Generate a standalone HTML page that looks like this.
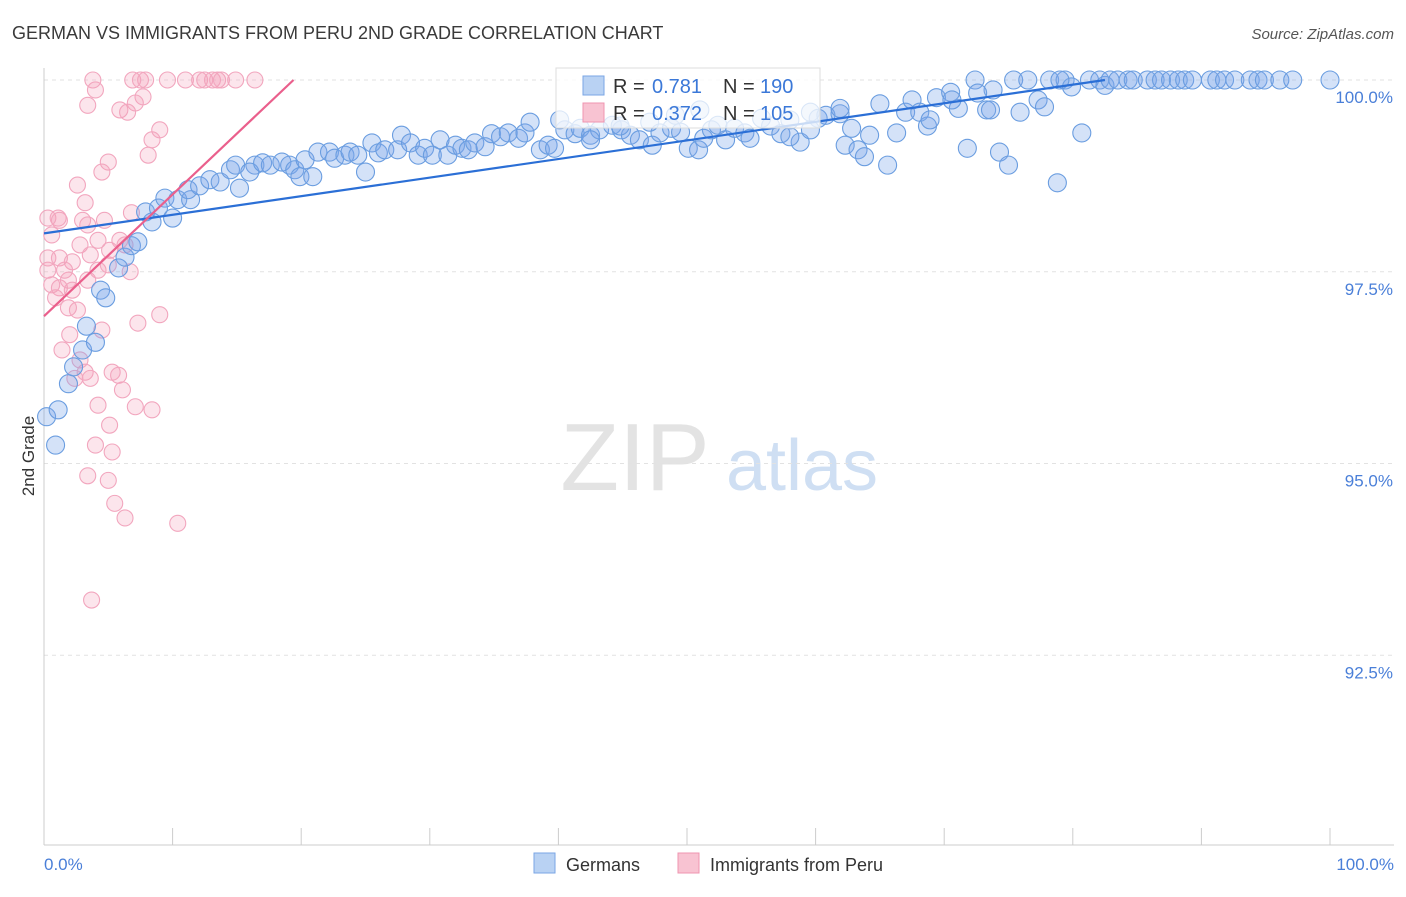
<!DOCTYPE html>
<html><head><meta charset="utf-8"><style>
body{margin:0;background:#fff;font-family:"Liberation Sans",sans-serif;}
svg text{font-family:"Liberation Sans",sans-serif;}
</style></head><body>
<svg id="chart" width="1406" height="892" xmlns="http://www.w3.org/2000/svg">
<text x="12" y="39" font-size="18" fill="#3a3a3a">GERMAN VS IMMIGRANTS FROM PERU 2ND GRADE CORRELATION CHART</text>
<text x="1394" y="39" font-size="15" font-style="italic" fill="#555" text-anchor="end">Source: ZipAtlas.com</text>
<text transform="translate(34,456) rotate(-90)" font-size="17" fill="#333" text-anchor="middle">2nd Grade</text>
<g>
<text x="635" y="490" font-size="96" font-family="Liberation Serif,serif" fill="#e3e3e3" text-anchor="middle">ZIP</text>
<text x="802" y="490" font-size="72" fill="#cfdff3" text-anchor="middle">atlas</text>
</g>
<g id="grid"></g>
<g id="axes"></g>
<g id="pts"></g>
<g id="trend"></g>
<g>
<rect x="556" y="68" width="264" height="60" fill="rgba(255,255,255,0.75)" stroke="#ddd"/>
<rect x="583" y="76" width="21" height="19" fill="#b9d2f3" stroke="#7aa6e4"/>
<text x="613" y="93" font-size="20" fill="#333">R =</text>
<text x="652" y="93" font-size="20" fill="#3b78d8">0.781</text>
<text x="723" y="93" font-size="20" fill="#333">N =</text>
<text x="760" y="93" font-size="20" fill="#3b78d8">190</text>
<rect x="583" y="103" width="21" height="19" fill="#f8c3d2" stroke="#ef94b0"/>
<text x="613" y="120" font-size="20" fill="#333">R =</text>
<text x="652" y="120" font-size="20" fill="#3b78d8">0.372</text>
<text x="723" y="120" font-size="20" fill="#333">N =</text>
<text x="760" y="120" font-size="20" fill="#3b78d8">105</text>
</g>
<g>
<rect x="534" y="853" width="21" height="20" fill="#b9d2f3" stroke="#7aa6e4"/>
<text x="566" y="871" font-size="18" fill="#333">Germans</text>
<rect x="678" y="853" width="21" height="20" fill="#f8c3d2" stroke="#ef94b0"/>
<text x="710" y="871" font-size="18" fill="#333">Immigrants from Peru</text>
</g>
</svg>
<script>
const germanX=[0.2,1.1,0.9,1.9,2.3,3.0,3.3,4.0,4.4,4.8,5.8,6.3,6.8,7.3,8.4,7.9,8.9,9.4,10.0,10.4,11.4,11.2,12.1,12.9,13.7,14.5,15.2,14.9,16.4,16.0,17.0,17.6,18.5,19.1,19.5,19.9,20.3,20.9,21.3,22.2,22.6,23.4,23.8,24.4,25.0,25.5,26.0,26.5,27.5,27.8,28.5,29.1,29.6,30.2,30.8,31.4,32.0,32.5,33.0,33.5,34.3,34.8,35.5,36.1,36.9,37.4,38.6,39.2,39.7,40.5,41.3,41.7,42.5,43.2,44.2,44.9,45.6,46.3,47.3,47.9,48.8,49.5,50.1,50.9,51.3,51.9,52.4,53.0,53.7,54.5,54.9,55.8,56.5,57.3,58.0,58.8,59.6,60.2,60.8,61.9,62.3,62.8,63.3,63.8,64.2,65.0,65.6,66.3,67.0,67.5,68.1,68.7,69.4,70.5,71.1,71.8,72.4,73.3,73.8,74.3,75.0,75.4,75.9,76.5,77.3,77.8,78.2,78.8,79.4,79.9,80.7,81.3,82.1,82.5,82.9,83.5,84.3,84.7,85.8,86.4,86.9,87.6,88.2,88.7,89.3,90.7,91.2,91.8,92.6,93.8,94.4,94.9,96.1,97.1,100.0,72.6,73.6,79.0,70.6,68.9,61.9,59.6,58.0,51.0,49.1,47.1,44.8,42.5,40.1,37.8];
const germanY=[95.61,95.70,95.24,96.04,96.26,96.48,96.79,96.58,97.26,97.16,97.55,97.69,97.84,97.89,98.15,98.28,98.33,98.46,98.20,98.44,98.44,98.57,98.62,98.70,98.67,98.83,98.59,98.89,98.89,98.80,98.92,98.89,98.93,98.89,98.83,98.74,98.96,98.74,99.06,99.06,98.98,99.02,99.06,99.02,98.80,99.18,99.05,99.09,99.09,99.28,99.18,99.02,99.11,99.02,99.22,99.02,99.15,99.11,99.09,99.18,99.13,99.30,99.26,99.31,99.24,99.31,99.09,99.15,99.11,99.35,99.30,99.37,99.28,99.35,99.41,99.35,99.28,99.22,99.15,99.31,99.37,99.32,99.11,99.09,99.24,99.35,99.41,99.22,99.37,99.31,99.24,99.50,99.40,99.30,99.48,99.19,99.58,99.50,99.54,99.56,99.15,99.37,99.09,99.00,99.28,99.69,98.89,99.31,99.58,99.74,99.58,99.40,99.77,99.84,99.63,99.11,100,99.61,99.87,99.06,98.89,100,99.58,100,99.74,99.65,100,98.66,100,99.91,99.31,100,100,99.93,100,100,100,100,100,100,100,100,100,100,100,100,100,100,100,100,100,100,100,100,100,99.83,99.61,100,99.74,99.48,99.63,99.35,99.26,99.61,99.54,99.45,99.40,99.22,99.48,99.45,99.41];
const peruX=[3.8,4.0,3.4,6.9,7.5,7.9,7.7,7.1,5.9,6.5,9.6,11.0,12.1,12.5,13.1,13.5,13.8,14.9,16.4,9.0,8.4,8.1,5.0,4.5,2.6,0.3,1.1,1.2,3.2,3.0,3.4,4.7,6.8,0.6,2.8,4.2,5.9,0.3,1.2,2.2,3.6,5.1,6.3,1.6,0.3,1.9,0.6,1.2,2.2,0.9,1.9,2.6,3.4,4.2,5.0,6.7,4.5,7.3,9.0,2.0,1.4,2.8,5.3,5.8,3.2,2.4,3.6,6.1,4.2,7.1,8.4,5.1,4.0,5.3,3.4,5.0,5.5,6.3,10.4,3.7];
const peruY=[100,99.87,99.67,100,100,100,99.78,99.70,99.61,99.58,100,100,100,100,100,100,100,100,100,99.35,99.22,99.02,98.93,98.80,98.63,98.20,98.20,98.17,98.40,98.17,98.11,98.17,98.27,97.98,97.85,97.91,97.91,97.68,97.68,97.63,97.72,97.78,97.85,97.52,97.52,97.39,97.33,97.29,97.26,97.16,97.03,97.00,97.39,97.52,97.59,97.50,96.74,96.83,96.94,96.68,96.48,96.35,96.19,96.15,96.19,96.11,96.11,95.96,95.76,95.74,95.70,95.50,95.24,95.15,94.84,94.78,94.48,94.29,94.22,93.22];
const yTicks=[100,97.5,95,92.5];
const yTickLabels=["100.0%","97.5%","95.0%","92.5%"];
const germanTrend=[[0,98.0],[82.5,100]];
const peruTrend=[[0,96.92],[19.4,100]];
const NS="http://www.w3.org/2000/svg";
const sx=v=>44+v*12.86;
const sy=v=>80+(100-v)*76.7;
function mk(tag,attrs,parent){const e=document.createElementNS(NS,tag);for(const k in attrs)e.setAttribute(k,attrs[k]);document.getElementById(parent).appendChild(e);return e;}
yTicks.forEach((t,i)=>{
 const l=mk('line',{x1:44,x2:1394,y1:sy(t),y2:sy(t),stroke:'#e2e2e2','stroke-dasharray':'4,4'},'grid');
 
 
 const tx=mk('text',{x:1393,y:sy(t)+23,'font-size':17,fill:'#4a7fd8','text-anchor':'end'},'grid');
 tx.textContent=yTickLabels[i];
 
 
});
const ya=mk('line',{x1:44,x2:44,y1:68,y2:845,stroke:'#ccc'},'axes');


const xa=mk('line',{x1:44,x2:1394,y1:845,y2:845,stroke:'#ccc'},'axes');


for(let i=0;i<=10;i++){
 const t=mk('line',{x1:sx(i*10),x2:sx(i*10),y1:828,y2:845,stroke:'#ccc'},'axes');
 
 
}
const xl0=mk('text',{x:44,y:870,'font-size':17,fill:'#4a7fd8'},'axes');xl0.textContent='0.0%';


const xl1=mk('text',{x:1394,y:870,'font-size':17,fill:'#4a7fd8','text-anchor':'end'},'axes');xl1.textContent='100.0%';


peruX.forEach((x,i)=>{
 const c=mk('circle',{cx:sx(x),cy:sy(peruY[i]),r:8,fill:'rgba(244,160,188,0.28)',stroke:'#f2a6be','stroke-width':1.1},'pts');
 
 
});
germanX.forEach((x,i)=>{
 const c=mk('circle',{cx:sx(x),cy:sy(germanY[i]),r:9,fill:'rgba(120,165,232,0.32)',stroke:'#6a9de0','stroke-width':1.1},'pts');
 
 
});
const gl=mk('line',{x1:sx(germanTrend[0][0]),y1:sy(germanTrend[0][1]),x2:sx(germanTrend[1][0]),y2:sy(germanTrend[1][1]),stroke:'#2b6fd6','stroke-width':2.2},'trend');


const pl=mk('line',{x1:sx(peruTrend[0][0]),y1:sy(peruTrend[0][1]),x2:sx(peruTrend[1][0]),y2:sy(peruTrend[1][1]),stroke:'#ea5f8c','stroke-width':2.2},'trend');


</script>
</body></html>
